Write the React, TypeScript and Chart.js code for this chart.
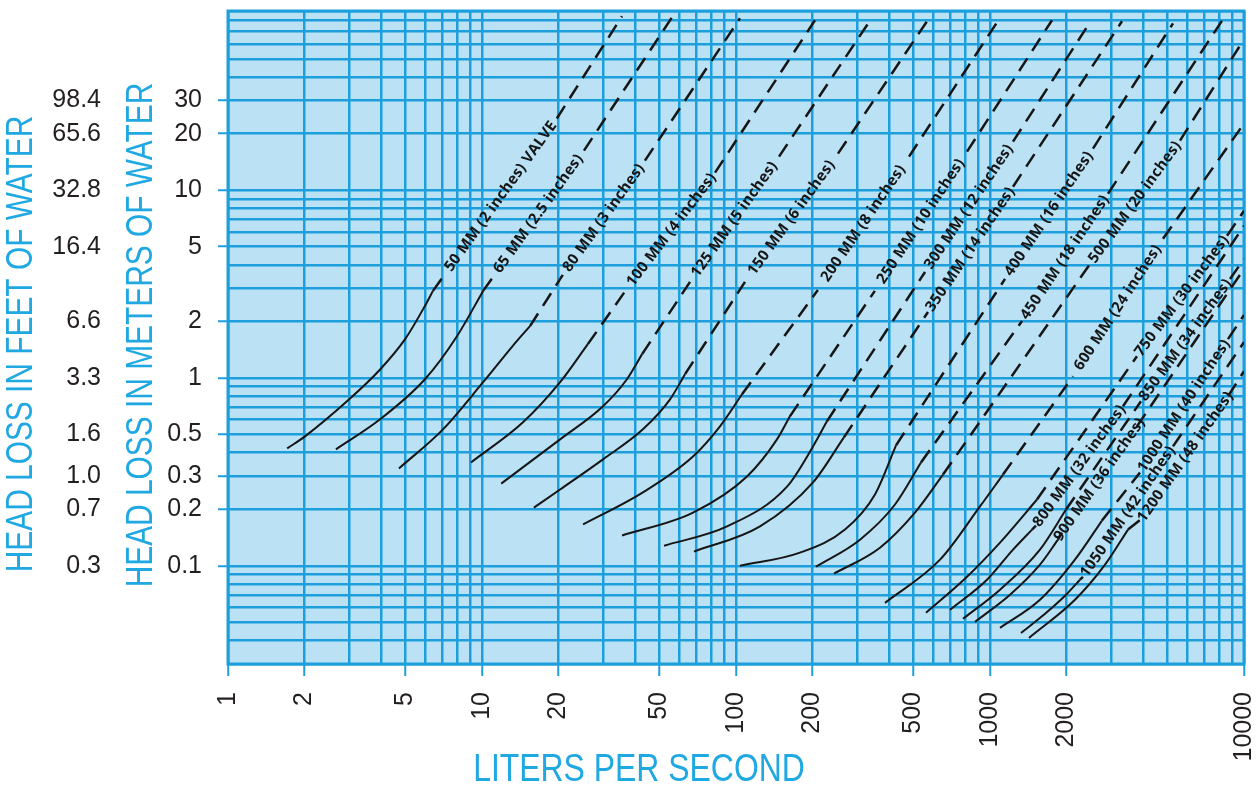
import React, { useEffect, useRef } from "react";
import { Chart, registerables } from "chart.js";

Chart.register(...registerables);

const X_MIN = 1;
const X_MAX = 10000;
const Y_MIN = 0.03;
const Y_MAX = 90;

const xTickValues = [1, 2, 5, 10, 20, 50, 100, 200, 500, 1000, 2000, 10000];
const xTickLabels = ["1", "2", "5", "10", "20", "50", "100", "200", "500", "1000", "2000", "10000"];
const yTickValues = [0.1, 0.2, 0.3, 0.5, 1, 2, 5, 10, 20, 30];
const yMeterLabels = ["0.1", "0.2", "0.3", "0.5", "1", "2", "5", "10", "20", "30"];
const yFeetLabels = ["0.3", "0.7", "1.0", "1.6", "3.3", "6.6", "16.4", "32.8", "65.6", "98.4"];
const gridMantissas = [1, 2, 3, 4, 5, 6, 7, 8, 9];

const pipeLabels = [
  "50 MM (2 inches) VALVE",
  "65 MM (2.5 inches)",
  "80 MM (3 inches)",
  "100 MM (4 inches)",
  "125 MM (5 inches)",
  "150 MM (6 inches)",
  "200 MM (8 inches)",
  "250 MM (10 inches)",
  "300 MM (12 inches)",
  "350 MM (14 inches)",
  "400 MM (16 inches)",
  "450 MM (18 inches)",
  "500 MM (20 inches)",
  "600 MM (24 inches)",
  "750 MM (30 inches)",
  "800 MM (32 inches)",
  "850 MM (34 inches)",
  "900 MM (36 inches)",
  "1000 MM (40 inches)",
  "1050 MM (42 inches)",
  "1200 MM (48 inches)",
];

// solid (measured) part of each curve: flow in L/s, head loss in m
const solidFlow = [
  [1.71, 2.01, 3.0, 3.97, 4.98, 5.96, 6.41],
  [2.66, 3.97, 5.96, 7.97, 10.1],
  [4.71, 7.02, 10.1, 13.2, 15.45],
  [9.05, 14.5, 20.3, 26.1],
  [11.9, 20.3, 29.95, 37.2, 42.7],
  [16.0, 20.3, 29.95, 43.0, 55.0, 63.0],
  [25.0, 43.0, 67.7, 86.5, 105.6],
  [35.6, 67.7, 110.5, 145, 163],
  [52.1, 92.2, 158.8, 201, 228],
  [68.3, 124.3, 201, 266],
  [103.7, 178.6, 268.6, 352.5, 426.6],
  [206.5, 307.7, 422.7, 534.9],
  [243.1, 368.8, 506.5, 653.1],
  [386, 635.6, 913.2, 1125],
  [559.8, 812, 1095, 1531],
  [695.9, 973.2, 1232, 1464],
  [782.9, 1095, 1573, 1992],
  [873.2, 1199, 1573, 1852],
  [1095, 1573, 2160, 2760],
  [1324, 1647, 1974, 2261],
  [1424, 2160, 2837, 3494],
];
const solidHead = [
  [0.422, 0.489, 0.77, 1.11, 1.61, 2.42, 2.91],
  [0.417, 0.603, 0.985, 1.67, 2.91],
  [0.33, 0.533, 0.95, 1.48, 1.89],
  [0.355, 0.581, 0.95, 1.515],
  [0.274, 0.471, 0.707, 0.985, 1.34],
  [0.204, 0.255, 0.369, 0.533, 0.77, 1.048],
  [0.166, 0.246, 0.382, 0.553, 0.819],
  [0.145, 0.192, 0.299, 0.471, 0.625],
  [0.128, 0.162, 0.264, 0.432, 0.588],
  [0.119, 0.162, 0.278, 0.483],
  [0.1, 0.1175, 0.156, 0.24, 0.438],
  [0.0989, 0.1378, 0.212, 0.355],
  [0.0908, 0.1249, 0.192, 0.306],
  [0.0635, 0.1078, 0.207, 0.306],
  [0.0562, 0.0874, 0.1328, 0.2254],
  [0.0583, 0.0843, 0.1219, 0.1559],
  [0.0522, 0.0746, 0.1219, 0.1993],
  [0.0503, 0.0701, 0.1014, 0.1378],
  [0.0467, 0.0659, 0.1078, 0.1741],
  [0.0439, 0.0555, 0.0692, 0.0843],
  [0.0413, 0.0659, 0.1014, 0.1559],
];

// dashed (extrapolated) part: [end of solid, label start, label end, edge]
const dashFlow = [
  [6.41, 7.15, 19.7, 35.6],
  [10.1, 11.05, 25.2, 56.0],
  [15.45, 20.8, 43.8, 103.7],
  [26.1, 37.6, 82.7, 204.6],
  [42.7, 65.9, 147.7, 340],
  [63.0, 108.5, 252, 565],
  [105.6, 210, 480, 1066],
  [163, 352, 812, 1754],
  [228, 555, 1232, 2476],
  [266, 570, 1232, 3309],
  [426.6, 1146, 2544, 5254],
  [534.9, 1337, 2915, 8267],
  [653.1, 2476, 5598, 10000],
  [1125, 2122, 4798, 10000],
  [1531, 3790, 8575, 10000],
  [1464, 1517, 3339, 10000],
  [1992, 3930, 8810, 10000],
  [1852, 1920, 3790, 10000],
  [2760, 3895, 8650, 10000],
  [2261, 2323, 5254, 10000],
  [3494, 4002, 8650, 10000],
];
const dashHead = [
  [2.91, 3.58, 24.1, 84.4],
  [2.91, 3.45, 16.25, 83.4],
  [1.89, 3.54, 14.37, 82.4],
  [1.515, 3.05, 12.4, 80.4],
  [1.34, 3.25, 15.1, 81.4],
  [1.048, 3.25, 15.66, 79.4],
  [0.819, 2.94, 15.1, 78.4],
  [0.625, 2.91, 16.05, 80.4],
  [0.588, 3.67, 18.15, 78.4],
  [0.483, 2.245, 10.44, 79.4],
  [0.438, 3.37, 16.66, 77.4],
  [0.355, 2.011, 9.58, 81.4],
  [0.306, 4.05, 18.38, 63.6],
  [0.306, 1.022, 5.51, 22.65],
  [0.2254, 1.307, 5.716, 7.77],
  [0.1559, 0.1637, 0.707, 6.464],
  [0.1993, 0.752, 3.37, 4.308],
  [0.1378, 0.1502, 0.553, 3.81],
  [0.1741, 0.3141, 1.61, 2.164],
  [0.0843, 0.0874, 0.4324, 1.553],
  [0.1559, 0.1806, 0.7995, 1.087],
];

const BG = "#bae1f4";
const GRID = "#1c9fdc";
const INK = "#161616";
const TITLE = "#1fa8e1";
const TEXT = "#231f20";
const SANS = "'Liberation Sans', Arial, sans-serif";

function gridValues(min: number, max: number): number[] {
  const out: number[] = [];
  for (let e = -3; e <= 5; e++) {
    for (const m of gridMantissas) {
      const v = parseFloat((m * Math.pow(10, e)).toPrecision(4));
      if (v >= min * 0.9999 && v <= max * 1.0001) out.push(v);
    }
  }
  return out;
}

function labelIndex(vals: number[], v: number): number {
  return vals.findIndex((t) => Math.abs(t - v) <= t * 1e-6);
}

function drawCondensed(ctx: CanvasRenderingContext2D, text: string, cx: number, cy: number, rot: number, size: number, sx: number) {
  ctx.save();
  ctx.translate(cx, cy);
  ctx.rotate(rot);
  ctx.scale(sx, 1);
  ctx.font = `${size}px ${SANS}`;
  ctx.fillStyle = TITLE;
  ctx.textAlign = "center";
  ctx.textBaseline = "middle";
  ctx.fillText(text, 0, 0);
  ctx.restore();
}

const backgroundPlugin = {
  id: "plotBackground",
  beforeDraw(chart: any) {
    const { ctx, chartArea: a } = chart;
    ctx.save();
    ctx.fillStyle = BG;
    ctx.fillRect(a.left, a.top, a.right - a.left, a.bottom - a.top);
    ctx.restore();
  },
  beforeDatasetsDraw(chart: any) {
    const { ctx, chartArea: a } = chart;
    ctx.save();
    ctx.strokeStyle = GRID;
    ctx.lineWidth = 3;
    ctx.strokeRect(a.left, a.top, a.right - a.left, a.bottom - a.top);
    ctx.restore();
  },
};

const pipeLabelPlugin = {
  id: "pipeLabels",
  afterDatasetsDraw(chart: any) {
    const { ctx } = chart;
    const xs = chart.scales.x;
    const ys = chart.scales.y;
    ctx.save();
    ctx.font = "bold 15px 'Open Sans', sans-serif";
    (ctx as any).letterSpacing = "0.3px";
    ctx.fillStyle = INK;
    ctx.textAlign = "center";
    ctx.textBaseline = "middle";
    pipeLabels.forEach((label, i) => {
      const x1 = xs.getPixelForValue(dashFlow[i][1]);
      const y1 = ys.getPixelForValue(dashHead[i][1]);
      const x2 = xs.getPixelForValue(dashFlow[i][2]);
      const y2 = ys.getPixelForValue(dashHead[i][2]);
      ctx.save();
      ctx.translate((x1 + x2) / 2, (y1 + y2) / 2);
      ctx.rotate(Math.atan2(y2 - y1, x2 - x1));
      ctx.fillText(label, 0, 0);
      ctx.restore();
    });
    (ctx as any).letterSpacing = "0px";
    ctx.restore();
  },
};

const titlePlugin = {
  id: "axisTitles",
  afterDraw(chart: any) {
    const ctx = chart.ctx;
    drawCondensed(ctx, "HEAD LOSS IN FEET OF WATER", 22, 344, -Math.PI / 2, 36, 0.83);
    drawCondensed(ctx, "HEAD LOSS IN METERS OF WATER", 142, 335, -Math.PI / 2, 36, 0.83);
    drawCondensed(ctx, "LITERS PER SECOND", 639, 771, 0, 38, 0.84);
  },
};

export default function App() {
  const canvasRef = useRef<HTMLCanvasElement | null>(null);

  useEffect(() => {
    const canvas = canvasRef.current;
    if (!canvas) return;
    const xGrid = gridValues(X_MIN, X_MAX);
    const yGrid = gridValues(Y_MIN, Y_MAX);

    const datasets: any[] = [];
    pipeLabels.forEach((label, i) => {
      datasets.push({
        label: label,
        data: solidFlow[i].map((q, j) => ({ x: q, y: solidHead[i][j] })),
        borderColor: INK,
        borderWidth: 2,
        pointRadius: 0,
        cubicInterpolationMode: "monotone",
        fill: false,
      });
      const d = dashFlow[i].map((q, j) => ({ x: q, y: dashHead[i][j] }));
      datasets.push({
        label: label + " (extrapolated)",
        data: [d[0], d[1], { x: Math.sqrt(d[1].x * d[2].x), y: null }, d[2], d[3]],
        borderColor: INK,
        borderWidth: 2.5,
        borderDash: [15, 9],
        pointRadius: 0,
        tension: 0,
        spanGaps: false,
        fill: false,
      });
    });

    const chart = new Chart(canvas, {
      type: "line",
      data: { datasets },
      options: {
        animation: false,
        responsive: false,
        events: [],
        layout: { padding: { left: 0, right: 12, top: 11, bottom: 0 } },
        plugins: { legend: { display: false }, tooltip: { enabled: false } },
        scales: {
          x: {
            type: "logarithmic",
            position: "bottom",
            min: X_MIN,
            max: X_MAX,
            afterBuildTicks: (s: any) => {
              s.ticks = xGrid.map((v) => ({ value: v }));
            },
            afterFit: (s: any) => {
              s.height = 123;
              s.paddingLeft = 0;
              s.paddingRight = 0;
            },
            ticks: {
              autoSkip: false,
              minRotation: 90,
              maxRotation: 90,
              padding: 16,
              color: TEXT,
              font: { family: SANS, size: 25 },
              callback: (v: any) => {
                const k = labelIndex(xTickValues, Number(v));
                return k >= 0 ? xTickLabels[k] : "";
              },
            },
            grid: {
              color: GRID,
              lineWidth: 2.5,
              tickLength: 12,
              tickWidth: 2,
              tickColor: (c: any) => (c.tick && labelIndex(xTickValues, c.tick.value) >= 0 ? GRID : "rgba(0,0,0,0)"),
            },
            border: { display: false },
          },
          y: {
            type: "logarithmic",
            position: "left",
            weight: 0,
            min: Y_MIN,
            max: Y_MAX,
            afterBuildTicks: (s: any) => {
              s.ticks = yGrid.map((v) => ({ value: v }));
            },
            afterFit: (s: any) => {
              s.width = 100;
              s.paddingTop = 0;
              s.paddingBottom = 0;
            },
            ticks: {
              autoSkip: false,
              padding: 16,
              color: TEXT,
              font: { family: SANS, size: 25 },
              callback: (v: any) => {
                const k = labelIndex(yTickValues, Number(v));
                return k >= 0 ? yMeterLabels[k] : "";
              },
            },
            grid: {
              color: GRID,
              lineWidth: 2.5,
              tickLength: 10,
              tickWidth: 2,
              tickColor: (c: any) => (c.tick && labelIndex(yTickValues, c.tick.value) >= 0 ? GRID : "rgba(0,0,0,0)"),
            },
            border: { display: false },
          },
          yFeet: {
            type: "logarithmic",
            position: "left",
            weight: 1,
            min: Y_MIN,
            max: Y_MAX,
            afterBuildTicks: (s: any) => {
              s.ticks = yTickValues.map((v) => ({ value: v }));
            },
            afterFit: (s: any) => {
              s.width = 128;
              s.paddingTop = 0;
              s.paddingBottom = 0;
            },
            ticks: {
              autoSkip: false,
              padding: 27,
              color: TEXT,
              font: { family: SANS, size: 25 },
              callback: (v: any) => {
                const k = labelIndex(yTickValues, Number(v));
                return k >= 0 ? yFeetLabels[k] : "";
              },
            },
            grid: { display: false, drawTicks: false, drawOnChartArea: false },
            border: { display: false },
          },
        },
      } as any,
      plugins: [backgroundPlugin, pipeLabelPlugin, titlePlugin],
    });

    return () => chart.destroy();
  }, []);

  return (
    <div style={{ position: "absolute", left: 0, top: 0, width: 1256, height: 787 }}>
      <canvas ref={canvasRef} width={1256} height={787} style={{ display: "block" }} />
    </div>
  );
}
